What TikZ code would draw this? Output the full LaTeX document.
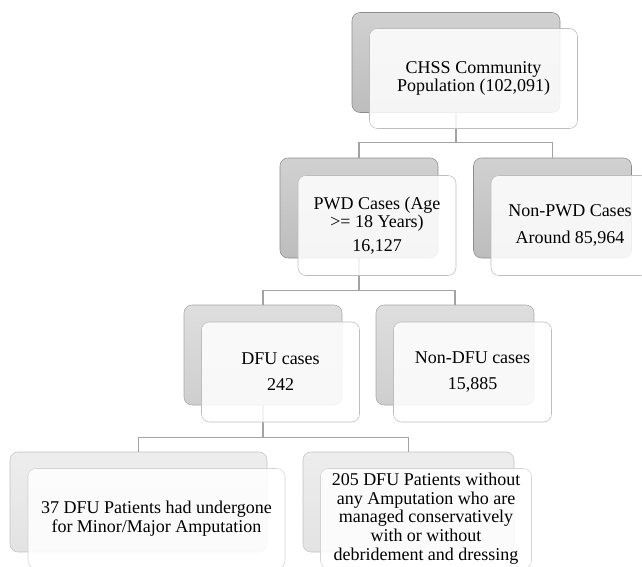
\documentclass[tikz,border=0pt]{standalone}
\usepackage{fontspec}
\setmainfont{Liberation Serif}
\definecolor{linkgray}{HTML}{A3A3A3}
\definecolor{darkedge}{HTML}{8C8C8C}
\definecolor{midedge}{HTML}{A8A8A8}
\definecolor{lightedge}{HTML}{C2C2C2}
\definecolor{frontedge}{HTML}{BDBDBD}
\tikzset{
  card/.style={rounded corners=6pt, inner sep=0pt, minimum height=75pt},
  backdark/.style={card, draw=darkedge, top color=black!18, bottom color=black!26},
  backmid/.style={card, draw=midedge, top color=black!13, bottom color=black!19},
  backlight/.style={card, draw=lightedge, top color=black!7, bottom color=black!11},
  frontcard/.style={card, draw=frontedge, fill=white, fill opacity=0.86, text opacity=1, align=center},
  link/.style={draw=linkgray, line width=0.9pt}
}
\begin{document}
\begin{tikzpicture}[x=0.75pt, y=-0.75pt, font=\fontsize{13.5}{14}\selectfont]
\useasboundingbox (0,0) rectangle (642,567);
% shadow cards
\node[backdark, minimum width=156pt] (chssB) at (456,62.5) {};
\node[backdark, minimum width=118.5pt] (pwdB) at (359,208) {};
\node[backdark, minimum width=118.5pt] (nonpwdB) at (552.5,208) {};
\node[backmid, minimum width=118.5pt] (dfuB) at (263,355) {};
\node[backmid, minimum width=118.5pt] (nondfuB) at (455,355) {};
\node[backlight, minimum width=192.75pt] (ampB) at (138.5,502) {};
\node[backlight, minimum width=158.25pt] (consB) at (408.5,502) {};
% connectors
\draw[link] (chssB.south) -- ++(0,30) -| (pwdB.north);
\draw[link] (chssB.south) -- ++(0,30) -| (nonpwdB.north);
\draw[link] (pwdB.south) -- ++(0,32) -| (dfuB.north);
\draw[link] (pwdB.south) -- ++(0,32) -| (nondfuB.north);
\draw[link] (dfuB.south) -- ++(0,32) -| (ampB.north);
\draw[link] (dfuB.south) -- ++(0,32) -| (consB.north);
% text cards
\node[frontcard, minimum width=156pt] (chss) at (473.5,78.5) {CHSS Community\\Population (102,091)};
\node[frontcard, minimum width=118.5pt] (pwd) at (377,225.5) {PWD Cases (Age\\>= 18 Years)\\[4pt]16,127};
\node[frontcard, minimum width=118.5pt] (nonpwd) at (570,225.5) {Non-PWD Cases\\[6pt]Around 85,964};
\node[frontcard, minimum width=118.5pt] (dfu) at (280.5,372) {DFU cases\\[5.5pt]242};
\node[frontcard, minimum width=118.5pt] (nondfu) at (472.5,372) {Non-DFU cases\\[5.5pt]15,885};
\node[frontcard, draw=lightedge!70, minimum width=192.75pt] (amp) at (156.5,518.5) {37 DFU Patients had undergone\\for Minor/Major Amputation};
\node[frontcard, draw=lightedge!70, minimum width=158.25pt] (cons) at (426,518.5) {205 DFU Patients without\\any Amputation who are\\managed conservatively\\with or without\\debridement and dressing};
\end{tikzpicture}
\end{document}
